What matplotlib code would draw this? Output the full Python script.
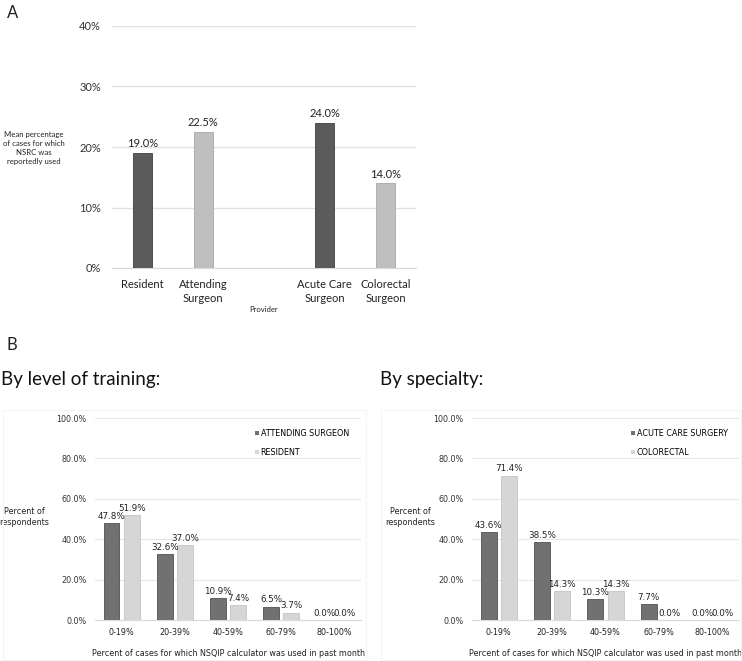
import matplotlib
matplotlib.use("Agg")
import matplotlib.pyplot as plt
from matplotlib.patches import Rectangle
import numpy as np

# Panel A
providers = ["Resident", "Attending\nSurgeon", "", "Acute Care\nSurgeon", "Colorectal\nSurgeon"]
nsrc_used = [19.0, 22.5, None, 24.0, 14.0]
a_dark, a_light = "#5b5b5b", "#bfbfbf"
a_colors = [a_dark, a_light, None, a_dark, a_light]

# Panel B
bins = ["0-19%", "20-39%", "40-59%", "60-79%", "80-100%"]
attending = [47.8, 32.6, 10.9, 6.5, 0.0]
resident = [51.9, 37.0, 7.4, 3.7, 0.0]
acute_care = [43.6, 38.5, 10.3, 7.7, 0.0]
colorectal = [71.4, 14.3, 14.3, 0.0, 0.0]
b_dark, b_light = "#717171", "#d6d6d6"

W, H = 742, 661
plt.rcParams["font.family"] = "Lato"
fig = plt.figure(figsize=(W / 100, H / 100), dpi=100)


def frac(x0, y0, x1, y1):
    return [x0 / W, 1 - y1 / H, (x1 - x0) / W, (y1 - y0) / H]


# faint chart-area frames
for x0, y0, x1, y1 in [(3, 410, 366, 660), (381, 410, 741, 660)]:
    fig.add_artist(Rectangle((x0 / W, 1 - y1 / H), (x1 - x0) / W, (y1 - y0) / H,
                             transform=fig.transFigure, fill=False, edgecolor="#f4f4f4", linewidth=0.8))

# ---- A ----
ax = fig.add_axes(frac(112, 26, 416, 268))
x = np.arange(len(providers))
for i, v in enumerate(nsrc_used):
    if v is None:
        continue
    ax.bar(x[i], v, width=0.31, color=a_colors[i], edgecolor="#404040" if a_colors[i] == a_dark else "#a8a8a8",
           linewidth=0.6, zorder=3)
    ax.text(x[i], v + 0.6, f"{v:.1f}%", ha="center", va="bottom", fontsize=8, color="#222222")
ax.set_xlim(-0.5, 4.5)
ax.set_ylim(0, 40)
ax.set_yticks([0, 10, 20, 30, 40])
ax.set_yticklabels([f"{t}%" for t in [0, 10, 20, 30, 40]], fontsize=8, color="#333333")
ax.set_xticks(x)
ax.set_xticklabels(providers, fontsize=8, color="#222222", linespacing=1.3)
ax.tick_params(length=0, pad=8)
ax.grid(axis="y", color="#e2e2e2", linewidth=1, zorder=0)
for s in ["top", "right", "left"]:
    ax.spines[s].set_visible(False)
ax.spines["bottom"].set_color("#d9d9d9")
ax.set_xlabel("Provider", fontsize=5.5, color="#222222")
ax.xaxis.label.set_va("center")
ax.xaxis.set_label_coords(0.5, -(310 - 268) / 242)
ax.set_ylabel("Mean percentage\nof cases for which\nNSRC was\nreportedly used", fontsize=5.6,
              rotation=0, ha="center", va="center", color="#222222", linespacing=1.35)
ax.yaxis.set_label_coords((34 - 112) / 304, (268 - 148) / 242)

fig.text(7 / W, 1 - 13 / H, "A", fontsize=12, va="center", ha="left", color="#222222")

# ---- B ----
fig.text(6 / W, 1 - 345 / H, "B", fontsize=12, va="center", ha="left", color="#222222")
fig.text(1 / W, 1 - 380 / H, "By level of training:", fontsize=13.5, va="center", ha="left", color="#111111")
fig.text(380 / W, 1 - 380 / H, "By specialty:", fontsize=13.5, va="center", ha="left", color="#111111")


def panel(rect, s1, s2, names, ylab_x, leg_x):
    ax = fig.add_axes(rect)
    xb = np.arange(len(bins))
    off = 0.19
    ax.bar(xb - off, s1, width=0.3, color=b_dark, edgecolor="#505050", linewidth=0.6, zorder=3, label=names[0])
    ax.bar(xb + off, s2, width=0.3, color=b_light, edgecolor="#c4c4c4", linewidth=0.6, zorder=3, label=names[1])
    for xi, v in zip(xb - off, s1):
        ax.text(xi, v + 1.2, f"{v:.1f}%", ha="center", va="bottom", fontsize=6.3,
                family="DejaVu Sans", color="#222222")
    for xi, v in zip(xb + off, s2):
        ax.text(xi, v + 1.2, f"{v:.1f}%", ha="center", va="bottom", fontsize=6.3,
                family="DejaVu Sans", color="#222222")
    ax.set_xlim(-0.5, 4.5)
    ax.set_ylim(0, 100)
    ticks = [0, 20, 40, 60, 80, 100]
    ax.set_yticks(ticks)
    ax.set_yticklabels([f"{t:.1f}%" for t in ticks], fontsize=5.8, family="DejaVu Sans", color="#333333")
    ax.set_xticks(xb)
    ax.set_xticklabels(bins, fontsize=5.8, family="DejaVu Sans", color="#222222")
    ax.tick_params(length=0, pad=6)
    ax.grid(axis="y", color="#e6e6e6", linewidth=0.8, zorder=0)
    for s in ["top", "right", "left"]:
        ax.spines[s].set_visible(False)
    ax.spines["bottom"].set_color("#d9d9d9")
    ax.set_xlabel("Percent of cases for which NSQIP calculator was used in past month",
                  fontsize=5.8, family="DejaVu Sans", color="#222222")
    ax.xaxis.label.set_va("center")
    ax.xaxis.set_label_coords(0.5, -(654 - 620) / 202)
    ax.set_ylabel("Percent of\nrespondents", fontsize=5.8, family="DejaVu Sans", rotation=0,
                  ha="center", va="center", color="#222222")
    ax.yaxis.set_label_coords(ylab_x, 0.51)
    leg = ax.legend(loc="upper left", bbox_to_anchor=(leg_x, 0.945), frameon=False,
                    prop={"family": "DejaVu Sans", "size": 5.8}, borderpad=0, borderaxespad=0,
                    handlelength=0.45, handleheight=0.45, handletextpad=0.25, labelspacing=1.25)
    for h in leg.legend_handles:
        h.set_linewidth(0)
    return ax


panel(frac(95, 418, 361, 620), attending, resident, ["ATTENDING SURGEON", "RESIDENT"],
      (24 - 95) / 266, (255 - 95) / 266)
panel(frac(472, 418, 739, 620), acute_care, colorectal, ["ACUTE CARE SURGERY", "COLORECTAL"],
      (410 - 472) / 267, (631 - 472) / 267)

fig.savefig("out.png", dpi=100)
